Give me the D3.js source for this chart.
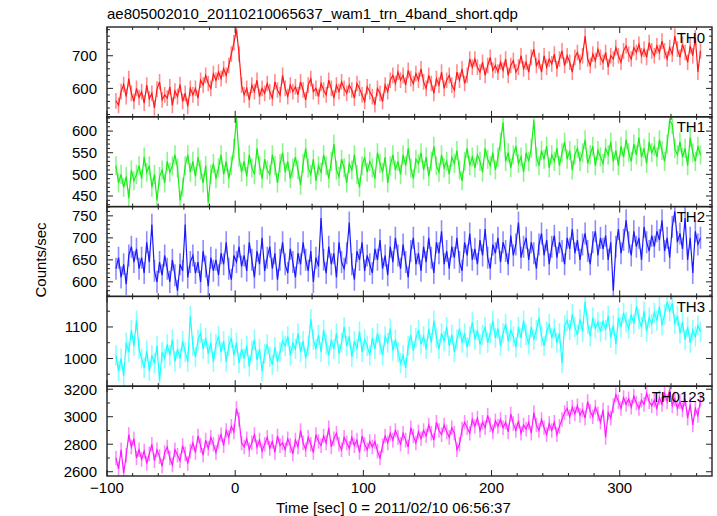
<!DOCTYPE html>
<html><head><meta charset="utf-8">
<script src="https://cdn.jsdelivr.net/npm/d3@7"></script>
<style>
body{margin:0;background:#fff}
svg{display:block}
text{font-family:"Liberation Sans",Arial,Helvetica,sans-serif;fill:#000}
</style>
</head><body>
<svg id="c" width="717" height="516"></svg>
<script>
// ---------------- data ----------------
const title = "ae805002010_20110210065637_wam1_trn_4band_short.qdp";
const xLabel = "Time [sec] 0 = 2011/02/10 06:56:37";
const yLabel = "Counts/sec";
const bandNames = ["TH0", "TH1", "TH2", "TH3", "TH0123"];
const timeStart = -93, timeStep = 2;
const xDomain = [-100, 372];
const xTickValues = [-100, 0, 100, 200, 300];

const th0 = [
562,548,590,612,575,630,585,560,600,572,
590,555,610,568,585,540,598,620,565,580,
570,605,548,592,575,612,560,585,545,600,
580,600,570,625,610,640,615,600,645,625,
650,630,660,640,670,705,740,780,705,610,
580,600,565,610,590,625,575,600,585,615,
590,570,620,595,580,640,600,575,610,590,
605,580,620,595,565,610,630,590,600,575,
615,595,580,625,600,570,610,590,620,600,
585,610,595,570,615,600,580,560,605,590,
575,550,600,585,560,610,590,625,640,615,
650,625,640,610,655,630,615,645,625,660,
620,600,640,615,585,630,610,650,600,625,
640,610,595,650,625,660,615,640,690,665,
690,665,650,680,640,670,695,655,670,650,
680,655,690,640,670,685,650,665,700,660,
680,650,695,720,670,685,650,700,665,690,
675,705,660,690,715,670,700,680,650,695,
710,680,700,760,690,670,705,685,720,695,
680,710,665,700,690,725,700,680,715,730,
705,690,725,710,735,700,720,695,740,715,
700,730,710,745,715,690,725,705,760,720,
695,735,710,680,730,700,755,650,715];

const th1 = [
520,480,500,470,495,445,510,485,500,520,
490,540,505,520,470,500,440,495,510,480,
530,505,520,545,515,440,470,520,545,505,
530,495,540,510,480,520,435,500,525,490,
515,545,500,530,490,520,560,630,540,505,
530,495,545,515,500,560,520,490,535,510,
500,545,520,480,525,550,505,530,490,515,
540,510,475,525,560,515,500,535,485,520,
505,545,520,490,530,570,510,495,535,515,
480,525,510,545,500,470,520,540,505,530,
515,490,550,525,505,540,480,520,545,510,
530,500,545,520,560,515,490,535,525,550,
510,540,495,530,565,520,505,545,515,530,
500,540,525,555,510,485,530,560,520,540,
515,545,530,505,560,535,520,550,510,540,
575,620,530,550,515,545,565,525,540,505,
550,530,560,625,540,520,555,535,565,515,
545,530,560,520,550,575,535,555,510,545,
560,530,550,580,525,545,565,520,555,540,
525,560,545,575,530,555,520,565,540,580,
550,530,570,545,585,540,560,525,575,550,
565,540,580,555,530,570,625,615,560,545,
575,540,560,520,585,550,530,565,545];

const th2 = [
630,655,610,640,595,660,680,645,675,630,
655,620,690,645,730,625,600,645,615,660,
630,600,650,615,580,640,625,730,610,645,
660,620,645,600,670,635,590,655,625,650,
615,665,640,690,630,605,660,645,680,635,
660,625,690,650,610,670,640,700,625,655,
680,630,665,605,650,690,640,620,675,645,
610,665,640,690,650,625,670,600,655,635,
745,650,620,680,640,665,610,690,645,630,
665,735,640,605,670,650,690,625,660,640,
620,675,650,695,630,660,615,680,645,700,
660,630,685,645,610,670,700,640,665,625,
680,645,700,655,620,690,665,715,640,670,
630,680,655,700,645,625,690,660,710,650,
675,640,695,660,720,655,630,685,665,700,
645,690,670,640,705,660,685,735,655,680,
700,650,690,665,630,685,710,660,695,640,
680,705,655,690,670,640,700,675,720,665,
695,650,685,710,670,640,690,715,660,700,
675,705,650,690,580,680,720,665,695,740,
690,660,715,680,700,650,725,690,670,705,
680,715,695,740,670,700,655,725,760,690,
710,675,745,650,700,620,715,685,700];

const th3 = [
1010,960,1000,945,1050,1020,1090,1040,1120,1030,
1000,970,1025,960,1010,985,1040,930,1020,1000,
1045,1010,1060,990,1030,1000,1055,1020,990,1135,
1040,1005,1060,1080,1030,1065,1015,1050,990,1045,
1070,1020,1055,990,1040,1065,1010,1050,985,1030,
1000,1040,975,1025,1060,995,1030,960,1015,1045,
1005,980,1035,990,1020,1055,1040,1070,1010,1050,
1030,1080,1020,1055,1000,1040,1125,1060,1030,1075,
1020,1090,1045,1010,1060,1030,1080,1015,1050,1100,
1040,1070,1005,1055,1030,1085,1020,1060,1040,1010,
1065,1030,1080,1045,1010,1070,1050,1095,1025,1060,
1020,985,1010,970,1040,1075,1025,1065,1090,1045,
1070,1030,1095,1050,1120,1065,1030,1080,1055,1100,
1040,1075,1020,1060,1095,1050,1080,1035,1070,1115,
1060,1090,1045,1075,1100,1050,1080,1120,1065,1095,
1040,1080,1110,1055,1090,1070,1035,1100,1065,1120,
1075,1045,1100,1060,1090,1130,1070,1040,1085,1110,
1065,1095,1050,1080,985,1105,1120,1090,1140,1100,
1075,1125,1085,1180,1110,1070,1130,1095,1115,1085,
1120,1090,1135,1065,1105,1045,1130,1100,1145,1115,
1095,1140,1110,1165,1125,1100,1150,1085,1130,1110,
1145,1120,1165,1105,1140,1180,1150,1175,1110,1135,
1080,1115,1060,1100,1050,1090,1070,1105,1085];

const th0123 = [
2700,2620,2760,2590,2720,2870,2780,2840,2700,2760,
2690,2750,2660,2730,2800,2680,2760,2710,2640,2740,
2780,2700,2650,2760,2720,2680,2790,2730,2660,2750,
2810,2740,2860,2790,2720,2830,2770,2850,2800,2740,
2820,2870,2790,2900,2850,2930,2890,3060,2980,2810,
2780,2840,2760,2810,2870,2780,2830,2750,2800,2850,
2770,2820,2740,2860,2790,2810,2760,2840,2790,2730,
2830,2780,2900,2810,2760,2850,2800,2740,2870,2820,
2790,2860,2810,2920,2780,2840,2880,2800,2760,2850,
2810,2770,2850,2790,2830,2740,2860,2800,2760,2820,
2780,2820,2750,2700,2790,2860,2810,2880,2830,2900,
2850,2800,2880,2830,2780,2920,2860,2810,2890,2840,
2900,2860,2940,2880,2830,2960,2900,2870,2940,2890,
2850,2920,2880,2760,2800,2910,2960,2920,2880,2980,
2930,2990,2900,2960,2920,3010,2940,2890,2970,2930,
2980,2920,2960,2890,3020,2950,2900,2970,2880,2940,
2910,2960,2880,3030,2940,2900,2980,2920,2870,2950,
2900,2960,2870,2930,2980,3030,3060,3000,3070,3020,
3080,3010,3050,2990,3110,3040,3000,3070,3020,2960,
3050,2850,3030,2990,3080,3160,3110,3060,3140,3090,
3130,3070,3150,3100,3060,3120,3090,3170,3110,3080,
3120,3060,3140,3090,3170,3110,3200,3080,3130,3060,
3110,3050,3130,2990,3090,2940,3060,3010,3120];

const seriesValues = [th0, th1, th2, th3, th0123];
const seriesErrors = [24, 22, 25, 32, 53];
const yDomains = [[513, 788], [425.5, 633], [567, 771], [912, 1197], [2569, 3222]];
const yTickValues = [[600, 700], [450, 500, 550, 600], [600, 650, 700, 750], [1000, 1100], [2600, 2800, 3000, 3200]];
const yMinorSteps = [20, 10, 10, 50, 100];

// ---------------- layout & style ----------------
const L = 107, R = 712, T = 27, PH = 89.8;
const colors = ["#ff1a1a", "#1aee1a", "#1a1aff", "#1affff", "#ff1aff"];
const svg = d3.select("#c");
const x = d3.scaleLinear().domain(xDomain).range([L, R]);
const fmt = d3.format("");

svg.append("text").attr("x", 107).attr("y", 19).style("font-size", "15px").text(title);
svg.append("text").attr("transform", "translate(46,260) rotate(-90)")
  .attr("text-anchor", "middle").style("font-size", "15px").text(yLabel);
svg.append("text").attr("x", 276).attr("y", 513).style("font-size", "15px").text(xLabel);

const xMinor = d3.range(xDomain[0], xDomain[1], 20);

seriesValues.forEach((vals, i) => {
  const top = T + i * PH, bot = top + PH;
  const y = d3.scaleLinear().domain(yDomains[i]).range([bot, top]);
  const pts = vals.map((v, k) => ({t: timeStart + k * timeStep, v}));
  const err = seriesErrors[i];
  const g = svg.append("g");
  const cid = "clip" + i;
  svg.append("clipPath").attr("id", cid).append("rect")
    .attr("x", L).attr("y", top).attr("width", R - L).attr("height", PH);
  const dg = g.append("g").attr("clip-path", `url(#${cid})`);
  dg.selectAll("line.e").data(pts).join("line").attr("class", "e")
    .attr("x1", d => x(d.t)).attr("x2", d => x(d.t))
    .attr("y1", d => y(d.v - err)).attr("y2", d => y(d.v + err))
    .attr("stroke", colors[i]).attr("stroke-opacity", 0.5).attr("stroke-width", 1.6);
  dg.append("path").datum(pts)
    .attr("d", d3.line().x(d => x(d.t)).y(d => y(d.v)))
    .attr("fill", "none").attr("stroke", colors[i]).attr("stroke-width", 1.2);

  // frame
  g.append("rect").attr("x", L).attr("y", top).attr("width", R - L).attr("height", PH)
    .attr("fill", "none").attr("stroke", "#222").attr("stroke-width", 1.4);

  // x ticks (top & bottom, inward)
  const tk = g.append("g").attr("stroke", "#222").attr("stroke-width", 1);
  xMinor.forEach(v => {
    const len = xTickValues.includes(v) ? 6 : 3;
    tk.append("line").attr("x1", x(v)).attr("x2", x(v)).attr("y1", bot).attr("y2", bot - len);
    tk.append("line").attr("x1", x(v)).attr("x2", x(v)).attr("y1", top).attr("y2", top + len);
  });
  // y ticks (left & right, inward)
  const st = yMinorSteps[i];
  const yMinor = d3.range(Math.ceil(yDomains[i][0] / st) * st, yDomains[i][1], st);
  yMinor.forEach(v => {
    const major = yTickValues[i].includes(v);
    const len = major ? 6 : 3;
    tk.append("line").attr("x1", L).attr("x2", L + len).attr("y1", y(v)).attr("y2", y(v));
    tk.append("line").attr("x1", R).attr("x2", R - len).attr("y1", y(v)).attr("y2", y(v));
  });
  // y tick labels
  g.selectAll("text.yl").data(yTickValues[i]).join("text").attr("class", "yl")
    .attr("x", 97).attr("y", d => y(d)).attr("dy", "0.36em")
    .attr("text-anchor", "end").style("font-size", "15px").text(d => fmt(d));
  // band label
  g.append("text").attr("x", 705).attr("y", top + 15.5).attr("text-anchor", "end")
    .style("font-size", "15px").text(bandNames[i]);

  if (i === seriesValues.length - 1) {
    g.selectAll("text.xl").data(xTickValues).join("text").attr("class", "xl")
      .attr("x", d => x(d)).attr("y", bot + 16.5).attr("text-anchor", "middle")
      .style("font-size", "15px").text(d => d < 0 ? "\u2212" + Math.abs(d) : String(d));
  }
});
</script>
</body></html>
